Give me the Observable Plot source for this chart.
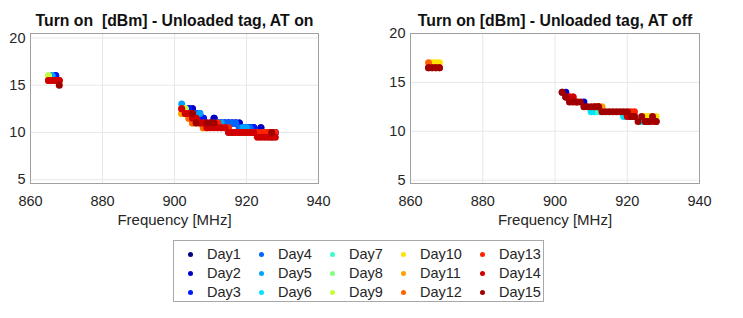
<!DOCTYPE html>
<html>
<head>
<meta charset="utf-8">
<script src="https://cdn.jsdelivr.net/npm/d3@7"></script>
<script src="https://cdn.jsdelivr.net/npm/@observablehq/plot@0.6"></script>
<style>
  body { margin: 0; background: #fff; font-family: "Liberation Sans", Arial, sans-serif; }
  #wrap { position: relative; width: 743px; height: 318px; overflow: hidden; background: #fff; }
  .panel { position: absolute; top: 0; }
  #legend { position: absolute; left: 173px; top: 240px; width: 371px; height: 62px; border: 1px solid #a8a8a8; box-sizing: border-box; }
  .li { position: absolute; font-size: 14.5px; color: #262626; line-height: 16px; white-space: nowrap; }
  .mk { position: absolute; width: 5px; height: 5px; border-radius: 50%; }
</style>
</head>
<body>
<div id="wrap">
  <div id="left" class="panel" style="left:0px"></div>
  <div id="right" class="panel" style="left:372px"></div>
  <div id="legend"></div>
</div>
<script>
const _ = null;
const freqs = [865,866,867,868,902,903,904,905,906,907,908,909,910,911,912,913,914,915,916,917,918,919,920,921,922,923,924,925,926,927,928];
const days = ["Day1","Day2","Day3","Day4","Day5","Day6","Day7","Day8","Day9","Day10","Day11","Day12","Day13","Day14","Day15"];
const dayColors = ["#000080","#0000c8","#0018ff","#0064ff","#00a4ff","#00e4ff","#38ffc8","#80ff80","#c4ff3c","#ffe400","#ffa000","#ff6400","#ff2400","#d00000","#a00000"];
const xTicks = [860,880,900,920,940];
const yTicks = [5,10,15,20];
const titleOn = "Turn on\u00a0 [dBm] - Unloaded tag, AT on";
const titleOff = "Turn on [dBm] - Unloaded tag, AT off";
const xLabel = "Frequency [MHz]";

// Turn-on power (dBm) per day, aligned with freqs — AT on
const on1  = [_,_,16,_, _,_,12.5,12.5,_,_,11.5,_,_,11.5,11,11,11,11,11,11,11,_,_,10.5,10.5,_,10.5,_,_,_,_];
const on2  = [_,_,16,_, _,_,12.5,12.5,12,12,11.5,_,11,11.5,11,11,11,11,11,11,11,10.5,10.5,10.5,10.5,10,10.5,10,10,10,10];
const on3  = [_,_,16,_, _,_,12.5,12,12,11.5,11.5,11,11,11,11,11,11,11,11,11,10.5,10.5,10.5,10.5,10.5,10,10,10,10,10,10];
const on4  = [_,16,_,_, _,_,_,_,12,12,_,_,_,_,_,11,11,11,11,11,10.5,10.5,10.5,10.5,_,_,_,_,_,_,_];
const on5  = [_,16,_,_, 13,_,_,_,_,12,_,_,_,_,11,11,_,_,_,_,_,10.5,10.5,_,_,_,_,_,_,_,_];
const on6  = [_,_,_,_, _,_,_,_,_,_,_,_,_,_,_,_,_,_,_,_,_,_,_,_,_,_,_,_,_,9.5,_];
const on7  = [_,_,_,_, _,_,_,_,_,_,_,_,_,_,_,_,_,10,10,_,_,_,_,_,_,_,_,_,_,_,_];
const on8  = [16,_,_,_, _,12.5,_,_,_,_,_,_,_,_,_,_,_,_,_,_,_,_,_,_,_,_,_,_,_,_,_];
const on9  = [16,_,_,_, _,12.5,_,_,_,_,_,_,_,_,_,_,_,_,_,_,_,_,_,_,_,_,_,_,_,_,_];
const on10 = [_,_,_,_, 12,12,_,_,_,_,_,_,_,_,_,_,_,_,_,_,_,_,_,_,_,_,_,10,_,_,_];
const on11 = [_,_,_,_, 12,_,11.5,11,_,_,10.5,_,_,_,_,_,_,_,_,_,_,_,_,_,_,_,_,_,_,_,_];
const on12 = [_,_,_,_, _,_,11.5,11,11,_,10.5,10.5,_,_,_,_,_,_,_,_,_,_,_,_,_,_,_,_,_,_,_];
const on13 = [15.5,15.5,15.5,15.5, 12.5,12,12,12,11.5,11,11,11,11,11,11,10.5,10.5,10.5,10,10,10,10,10,10,10,10,10,10,10,10,10];
const on14 = [15.5,15.5,15.5,15.5, 12.5,12,12,11.5,11.5,11,11,10.5,10.5,10.5,10.5,10.5,10.5,10,10,10,10,10,10,10,10,9.5,9.5,9.5,9.5,9.5,9.5];
const on15 = [_,_,_,15, _,_,_,12,11,_,_,11,11,11,_,_,_,_,_,_,_,_,_,_,_,_,_,_,_,10,_];

// AT off
const off1  = [_,_,_,_, 14,_,_,_,_,_,_,_,_,_,_,_,_,_,_,_,_,_,_,_,_,_,_,_,_,_,_];
const off2  = [_,_,_,_, _,14,_,_,_,_,13,_,_,_,_,_,_,_,_,_,_,_,_,_,_,_,_,_,_,_,_];
const off3  = [_,_,_,_, _,_,_,_,_,_,_,_,_,_,_,_,_,_,_,_,_,_,_,_,_,_,_,_,_,_,_];
const off4  = [_,_,_,_, _,_,_,_,_,_,_,_,_,_,_,_,_,_,_,_,_,_,_,_,_,_,_,_,_,_,_];
const off5  = [_,_,_,_, _,_,_,_,_,_,_,_,_,_,_,_,_,_,_,_,_,_,_,_,_,_,_,_,_,_,_];
const off6  = [_,_,_,_, _,_,_,_,_,_,_,_,12,12,_,_,_,_,_,_,_,11.5,11.5,_,_,_,11,_,_,_,_];
const off7  = [_,_,_,_, _,_,_,_,_,_,_,_,_,_,12,_,_,_,_,_,_,_,_,_,_,_,_,_,_,_,_];
const off8  = [_,_,_,_, _,_,_,_,_,_,_,_,_,_,_,_,_,_,_,_,_,_,_,_,_,_,_,_,_,_,_];
const off9  = [_,_,_,_, _,_,_,_,_,_,_,_,_,_,_,_,_,_,_,_,_,_,_,_,_,_,_,_,_,_,_];
const off10 = [_,17,17,17, _,_,_,_,_,_,_,_,_,_,_,_,_,_,_,_,_,_,_,_,_,_,_,11.5,11.5,_,11.5];
const off11 = [_,_,_,_, _,_,_,_,_,_,_,_,_,_,_,12.5,_,_,_,_,_,_,_,_,_,_,_,_,_,_,_];
const off12 = [17,_,_,_, _,_,_,_,_,_,_,_,_,_,_,_,_,_,_,_,_,_,_,_,_,_,_,_,_,_,_];
const off13 = [_,_,_,_, _,13.5,13.5,13.5,_,_,_,_,_,12.5,12.5,_,_,_,_,_,_,_,_,12,12,_,_,_,_,_,_];
const off14 = [16.5,16.5,16.5,16.5, _,13.5,13.5,13.5,13,_,_,_,_,_,12.5,_,_,_,_,_,_,_,11.5,11.5,11.5,_,_,11,11,11,11];
const off15 = [16.5,16.5,16.5,16.5, 14,13.5,13,13,13,13,12.5,12.5,12.5,12.5,12.5,12,12,12,12,12,12,12,12,11.5,11.5,11,11.5,11,11,11.5,11];

const onSeries  = [on1,on2,on3,on4,on5,on6,on7,on8,on9,on10,on11,on12,on13,on14,on15];
const offSeries = [off1,off2,off3,off4,off5,off6,off7,off8,off9,off10,off11,off12,off13,off14,off15];

function toRows(series) {
  const rows = [];
  series.forEach((vals, d) => vals.forEach((v, i) => { if (v != null) rows.push({day: days[d], freq: freqs[i], dbm: v}); }));
  return rows;
}

const txt = "#262626";
function panel(rows, title, opts) {
  return Plot.plot({
    width: opts.width, height: 230,
    marginLeft: opts.ml, marginRight: opts.mr, marginTop: opts.mt, marginBottom: 230 - opts.bottom,
    style: {fontFamily: '"Liberation Sans", Arial, sans-serif', background: "#fff"},
    x: {domain: [860, 940]},
    y: {domain: opts.ydom},
    color: {domain: days, range: dayColors},
    marks: [
      Plot.gridX(xTicks, {stroke: "#e8e8e8", strokeOpacity: 1}),
      Plot.gridY(yTicks, {stroke: "#e8e8e8", strokeOpacity: 1}),
      Plot.dot(rows, {x: "freq", y: "dbm", fill: "day", r: 3.5}),
      Plot.frame({stroke: "#a0a0a0"}),
      Plot.axisX(xTicks, {tickSize: 0, tickPadding: 12, fontSize: 14.5, fill: txt, label: null}),
      Plot.axisY(yTicks, {tickSize: 0, tickPadding: 5, fontSize: 14.5, fill: txt, label: null}),
      Plot.text([xLabel], {frameAnchor: "bottom", dy: 41, fontSize: 15, fill: txt}),
      Plot.text([title], {frameAnchor: "top", dy: -19, fontSize: 15.8, fontWeight: "bold", fill: "#111"})
    ]
  });
}

document.getElementById("left").appendChild(panel(toRows(onSeries), titleOn,
  {width: 372, ml: 30, mr: 54, mt: 33, bottom: 183, ydom: [4.6, 20.47]}));
document.getElementById("right").appendChild(panel(toRows(offSeries), titleOff,
  {width: 371, ml: 38, mr: 44, mt: 33, bottom: 183, ydom: [4.66, 20]}));

// legend
const legend = document.getElementById("legend");
const colX = [16, 87, 158, 229, 308];
const rowY = [13, 32, 51];
days.forEach((d, i) => {
  const c = Math.floor(i / 3), r = i % 3;
  const mk = document.createElement("div");
  mk.className = "mk";
  mk.style.background = dayColors[i];
  mk.style.left = (colX[c] - 2.5) + "px";
  mk.style.top = (rowY[r] - 2.5) + "px";
  legend.appendChild(mk);
  const t = document.createElement("div");
  t.className = "li";
  t.textContent = d;
  t.style.left = (colX[c] + 17) + "px";
  t.style.top = (rowY[r] - 8) + "px";
  legend.appendChild(t);
});
</script>
</body>
</html>
